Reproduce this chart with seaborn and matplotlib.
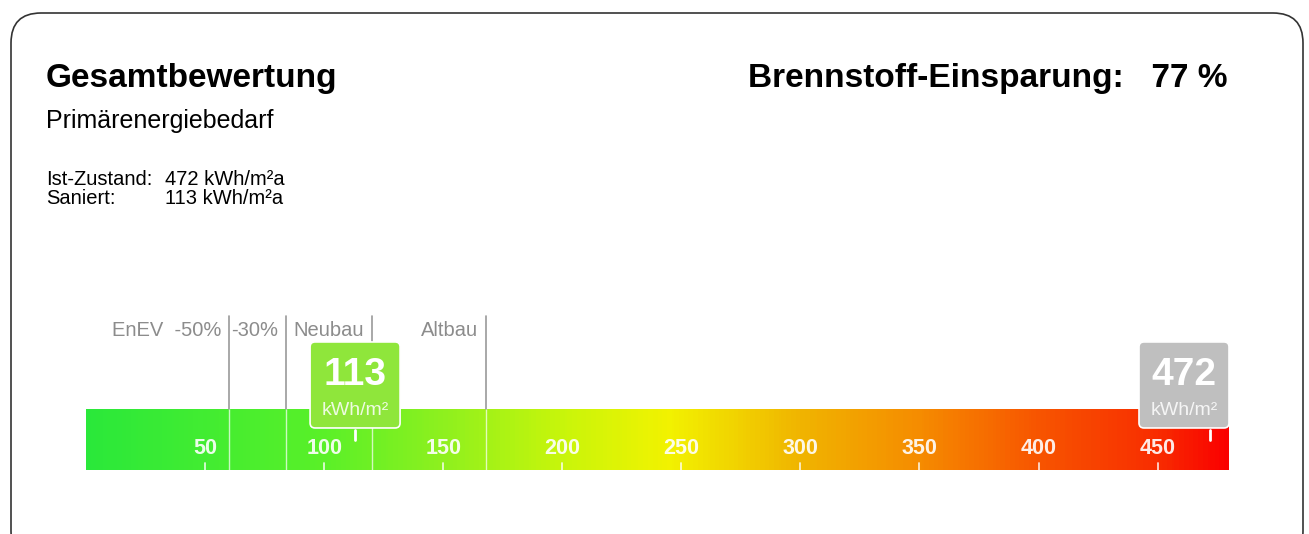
import numpy as np
import matplotlib
matplotlib.use('Agg')
import matplotlib.pyplot as plt
import seaborn as sns
from matplotlib.colors import LinearSegmentedColormap
from matplotlib.patches import FancyBboxPatch

# --- data ---
scale_max = 480
scale_ticks = [50, 100, 150, 200, 250, 300, 350, 400, 450]
ref_values = [60, 84, 120, 168]
ref_labels = ['EnEV  -50%', '-30%', 'Neubau', 'Altbau']
markers = [113, 472]
marker_colors = ['#8fe63b', '#bfbfbf']
ist_zustand = 472
saniert = 113
einsparung = 77

# colour ramp of the scale
stop_values = [0, 100, 150, 200, 245, 300, 350, 400, 450, 480]
stop_colors = ['#2ae83a', '#5af028', '#8ef01e', '#c8f50a', '#f2f200',
               '#f0b400', '#f58c00', '#f75500', '#f82d00', '#fa0000']

sns.set_style('white')
plt.rcParams['font.family'] = ['Liberation Sans', 'DejaVu Sans']
plt.rcParams['text.color'] = 'black'

W, H = 1309, 534
fig = plt.figure(figsize=(W / 100, H / 100), dpi=100)

# rounded frame
frame = FancyBboxPatch((0.11, -0.27), 12.92, 5.48, boxstyle='round,pad=0,rounding_size=0.3',
                       transform=fig.dpi_scale_trans, fc='none', ec='#333333', lw=1.2)
fig.add_artist(frame)

# header texts
fig.text(46 / W, 1 - 87 / H, 'Gesamtbewertung', fontsize=24, fontweight='bold', va='baseline')
fig.text(1228 / W, 1 - 87 / H, 'Brennstoff-Einsparung:   %d %%' % einsparung,
         fontsize=24, fontweight='bold', va='baseline', ha='right')
fig.text(46 / W, 1 - 128 / H, 'Primärenergiebedarf', fontsize=18, va='baseline')
fig.text(46 / W, 1 - 185 / H, 'Ist-Zustand:', fontsize=14.5, va='baseline')
fig.text(165 / W, 1 - 185 / H, '%d kWh/m²a' % ist_zustand, fontsize=14.5, va='baseline')
fig.text(46 / W, 1 - 204 / H, 'Saniert:', fontsize=14.5, va='baseline')
fig.text(165 / W, 1 - 204 / H, '%d kWh/m²a' % saniert, fontsize=14.5, va='baseline')

# the scale bar
ax = fig.add_axes([86 / W, (H - 470) / H, (1229 - 86) / W, 61 / H])
cmap = LinearSegmentedColormap.from_list('enev', list(zip(np.array(stop_values) / scale_max, stop_colors)))
ramp = np.arange(scale_max)[None, :] + 0.5
sns.heatmap(ramp, cmap=cmap, vmin=0, vmax=scale_max, cbar=False, ax=ax,
            xticklabels=False, yticklabels=False)
ax.set_xlim(0, scale_max)
ax.set_ylim(0, 1)
ax.set_axis_off()

px_x = (1229 - 86) / scale_max   # pixels per unit
px_y = 61.0                      # pixels per bar height

# reference lines and labels
for v, lab in zip(ref_values, ref_labels):
    ax.plot([v, v], [0, 1], color='white', lw=1, alpha=0.7)
    ax.plot([v, v], [1, 2.52], color='#9a9a9a', lw=1.2, clip_on=False)
    ax.annotate(lab, xy=(v, 2.29), xytext=(-5.5, 0), textcoords='offset points',
                ha='right', va='center', color='#8c8c8c', fontsize=14.5, annotation_clip=False)

# scale ticks and numbers
for t in scale_ticks:
    ax.plot([t, t], [0, 0.115], color='white', lw=1.3, alpha=0.8)
    ax.text(t, 0.36, str(t), ha='center', va='center', color='white',
            fontsize=15.5, fontweight='bold', alpha=0.9)

# value markers
box_w = 90 / px_x
for v, c in zip(markers, marker_colors):
    x0 = min(max(v - box_w / 2, 0), scale_max - box_w)
    box = FancyBboxPatch((x0, 0.689), box_w, 1.41,
                         boxstyle='round,pad=0,rounding_size=%f' % (5 / px_x),
                         mutation_aspect=px_x / px_y, fc=c, ec='white', lw=1.2,
                         clip_on=False, zorder=5)
    ax.add_patch(box)
    ax.plot([v, v], [0.49, 0.66], color='white', lw=2, zorder=6)
    ax.text(x0 + box_w / 2, 1.56, str(v), ha='center', va='center', color='white',
            fontsize=28, fontweight='bold', zorder=7, clip_on=False)
    ax.text(x0 + box_w / 2, 0.98, 'kWh/m²', ha='center', va='center', color='white',
            alpha=0.85, fontsize=14, zorder=7, clip_on=False)

plt.savefig('out.png', dpi=100)
